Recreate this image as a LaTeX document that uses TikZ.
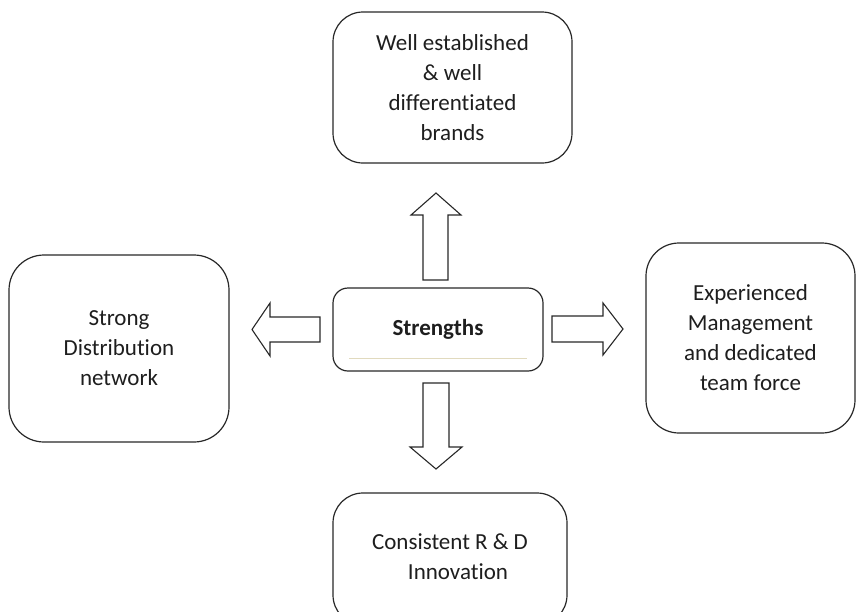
\documentclass[tikz,border=0pt]{standalone}
\usepackage{fontspec}
\setmainfont{Carlito}[RawFeature={-liga;-clig}]
\definecolor{linebeige}{RGB}{225,218,190}
\definecolor{txt}{RGB}{30,30,30}
\definecolor{edge}{RGB}{40,40,40}
\begin{document}
\begin{tikzpicture}[x=1pt,y=-1pt,
  box/.style={draw=edge, line width=1.2pt, fill=white, align=center, text=txt,
    font=\fontsize{23}{30}\selectfont, inner sep=0pt},
  blockarrow/.style={draw=edge, line width=1.1pt, fill=white, line join=miter}]
\useasboundingbox (0,0) rectangle (857,611);
\clip (0,0) rectangle (857,611);
\node[box, rounded corners=30pt, minimum width=239pt, minimum height=151pt] (top) at (452.5,87.5)
  {Well established\\\& well\\differentiated\\brands};
\node[box, rounded corners=15pt, minimum width=210pt, minimum height=83pt] (center) at (438,329.5) {};
\node[text=txt, font=\fontsize{23}{30}\selectfont\bfseries, inner sep=0pt] (strlabel) at (438,329) {Strengths};
\draw[linebeige, line width=0.9pt] (349,358) -- (527,358);
\node[box, rounded corners=35pt, minimum width=220pt, minimum height=187pt] (left) at (119,348.5)
  {Strong\\Distribution\\network};
\node[box, rounded corners=33pt, minimum width=209pt, minimum height=190pt] (right) at (750.5,338)
  {Experienced\\Management\\and dedicated\\team force};
\node[box, rounded corners=30pt, minimum width=234pt, minimum height=132pt] (bottom) at (450,559) {};
\node[text=txt, font=\fontsize{23}{30}\selectfont, align=center, inner sep=0pt] (botlabel) at (450,557)
  {Consistent R \& D\\\hspace*{16pt}Innovation};
% block arrows
\draw[blockarrow] (423,280) -- (423,215) -- (411,215) -- (436,193) -- (461,215) -- (448,215) -- (448,280) -- cycle;
\draw[blockarrow] (423,383) -- (423,447) -- (410,447) -- (436,469) -- (462,447) -- (449,447) -- (449,383) -- cycle;
\draw[blockarrow] (320,317) -- (270,317) -- (270,303) -- (252,329.5) -- (270,356) -- (270,342) -- (320,342) -- cycle;
\draw[blockarrow] (552,316) -- (603,316) -- (603,303) -- (623,329) -- (603,355) -- (603,342) -- (552,342) -- cycle;
\end{tikzpicture}
\end{document}
